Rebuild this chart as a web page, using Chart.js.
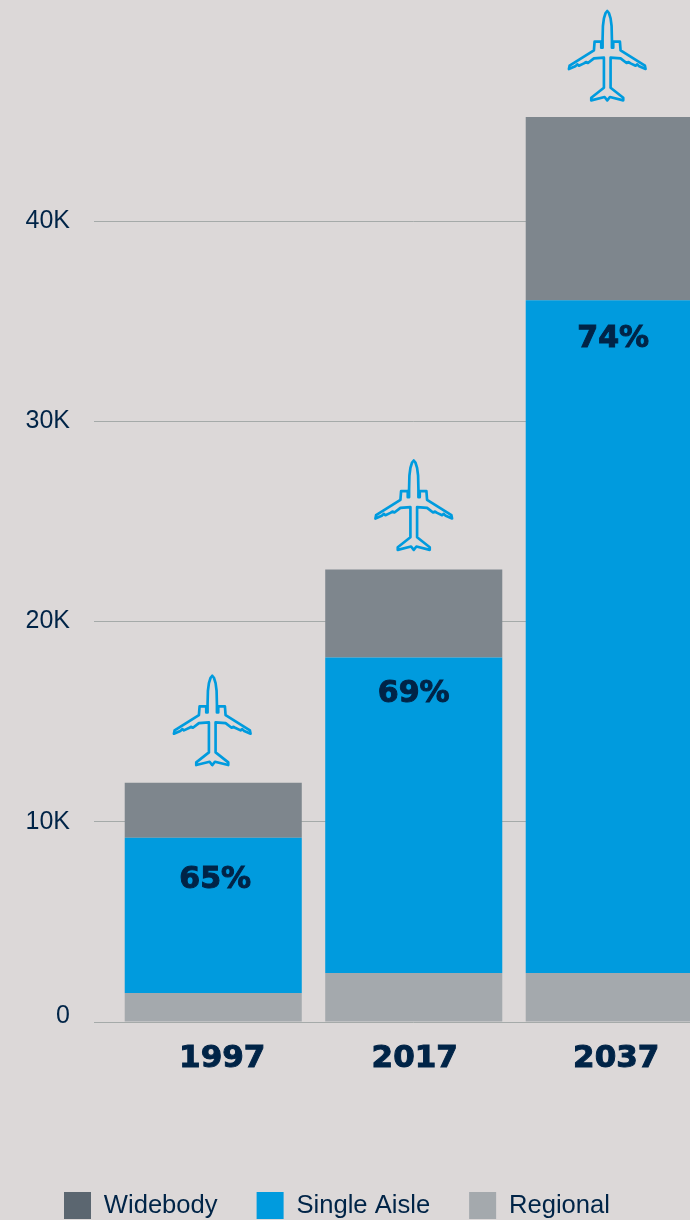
<!DOCTYPE html>
<html><head><meta charset="utf-8">
<script src="https://cdn.jsdelivr.net/npm/chart.js@4"></script>
<style>html,body{margin:0;padding:0;background:#dcd8d8;width:690px;height:1220px;overflow:hidden}canvas{display:block}</style>
</head><body><canvas id="c" width="730" height="1220"></canvas>
<script>
const categories = ['1997','2017','2037'];
const regional = [1450,2450,2450];
const singleAisle = [7750,15750,33600];
const widebody = [2750,4400,9150];
const shares = ['65%','69%','74%'];
const yTicks = [0,10000,20000,30000,40000];

const NAVY='#002447', BLUE='#009bde';
const shareNudge=[[2,6],[0,1],[-1,3]];
const planeNudge=[[-1,0],[0,-2],[-7,1]];
const xLabelNudge=[9,1,2];
const half=[[0,0],[5,6],[10,22],[13,45],[14,85],[14,110],[18,110],[18,92],[38,92],[40,118],[113,164],[115,174],[96,166],[90,160],[85,164],[70,157],[64,153],[58,156],[40,142],[10,140],[10,230],[48,260],[48,268],[8,258],[0,268]];
function plane(ctx,cx,top){
  ctx.save();ctx.translate(cx,top);ctx.scale(1/3,1/3);
  ctx.beginPath();
  half.forEach((p,i)=>i?ctx.lineTo(p[0],p[1]):ctx.moveTo(p[0],p[1]));
  [...half].reverse().slice(1).forEach(p=>ctx.lineTo(-p[0],p[1]));
  ctx.closePath();ctx.strokeStyle=BLUE;ctx.lineWidth=8;ctx.lineJoin='round';ctx.stroke();ctx.restore();
}
const annotations={id:'annotations',
  beforeDraw(chart){
    const y=chart.scales.y,x=chart.scales.x;
    y.getLabelItems().forEach(it=>{if(it.label==='0'&&!it.done){it.options.translation[1]-=6;it.done=true;}});
    x.getLabelItems().forEach((it,i)=>{if(!it.done){it.options.translation[0]+=xLabelNudge[i];it.done=true;}});
  },
  afterDatasetsDraw(chart){
    const ctx=chart.ctx,sa=chart.getDatasetMeta(1).data,wb=chart.getDatasetMeta(2).data;
    ctx.save();ctx.font='bold 30px "DejaVu Sans"';ctx.fillStyle=NAVY;ctx.strokeStyle=NAVY;ctx.lineWidth=1;ctx.textAlign='center';ctx.textBaseline='middle';
    shares.forEach((s,i)=>{const px=sa[i].x+shareNudge[i][0],py=sa[i].y+36+shareNudge[i][1];ctx.fillText(s,px,py);ctx.strokeText(s,px,py);});
    ctx.restore();
    wb.forEach((b,i)=>plane(ctx,b.x+planeNudge[i][0],b.y-107+planeNudge[i][1]));
  }
};
const legendColors=['#a4a9ad',BLUE,'#5b6670'];
new Chart(document.getElementById('c'),{
  type:'bar',
  data:{labels:categories,datasets:[
    {label:'Regional',data:regional,backgroundColor:'#a4a9ad'},
    {label:'Single Aisle',data:singleAisle,backgroundColor:BLUE},
    {label:'Widebody',data:widebody,backgroundColor:'#7e868d'}]},
  plugins:[annotations,{id:'legendShift',afterLayout(c){c.legend.left+=25;c.legend.right+=25;c.legend.top+=9;c.legend.bottom+=9;}}],
  options:{
    responsive:false,animation:false,
    layout:{padding:{top:101,right:15.5,left:0,bottom:0}},
    datasets:{bar:{categoryPercentage:1,barPercentage:0.883}},
    scales:{
      x:{stacked:true,grid:{display:false},border:{display:false},
        afterFit(s){s.height=122;},
        ticks:{color:NAVY,maxRotation:0,padding:10,textStrokeColor:NAVY,textStrokeWidth:1,font:{family:'"DejaVu Sans"',weight:'bold',size:31}}},
      y:{stacked:true,min:0,max:46000,
        afterBuildTicks(s){s.ticks=yTicks.map(v=>({value:v}));},
        afterFit(s){s.width=113;},
        grid:{color:'#a5aaa9',lineWidth:1,tickLength:19,tickColor:'#a5aaa9'},border:{display:false},
        ticks:{color:NAVY,padding:24,font:{family:'"Liberation Sans"',size:25},
          callback:v=>v===0?'0':(v/1000)+'K'}}
    },
    plugins:{tooltip:{enabled:false},
      legend:{position:'bottom',align:'start',reverse:true,
        labels:{boxWidth:27,boxHeight:27,padding:39,color:NAVY,font:{family:'"Liberation Sans"',size:25.6},
          generateLabels(chart){return Chart.defaults.plugins.legend.labels.generateLabels(chart).map(l=>({...l,fillStyle:legendColors[l.datasetIndex],strokeStyle:legendColors[l.datasetIndex],lineWidth:0}));}}}}
  }
});
</script></body></html>
